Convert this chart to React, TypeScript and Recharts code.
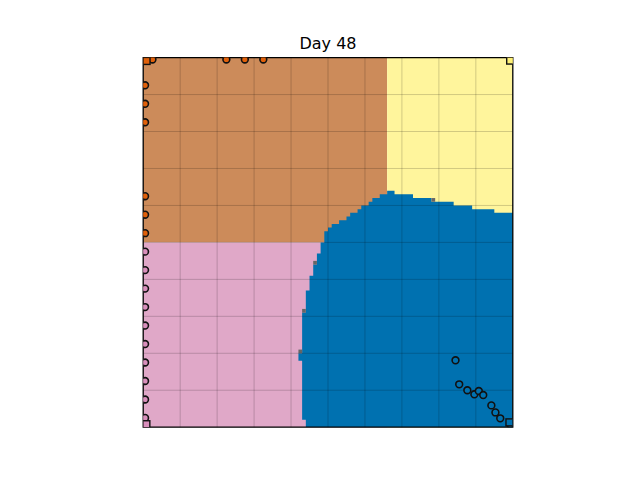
import { ComposedChart, Area, Scatter, XAxis, YAxis, ReferenceArea, ReferenceLine } from "recharts";

// territory map is 100 x 100 cells: column counted from the left, row from the bottom
const brownBox = [0, 66, 50, 100];
const yellowBox = [66, 100, 0, 100];
const pinkBox = [0, 66, 0, 50];

// blue territory, one entry per column starting at blueFirstCol: [low row, high row]
const blueFirstCol = 42;
const blueLow = [
  18, 2, 0, 0, 0, 0, 0, 0, 0, 0, 0, 0, 0, 0, 0, 0, 0, 0, 0, 0, 0, 0, 0, 0, 0, 0, 0, 0, 0,
  0, 0, 0, 0, 0, 0, 0, 0, 0, 0, 0, 0, 0, 0, 0, 0, 0, 0, 0, 0, 0, 0, 0, 0, 0, 0, 0, 0, 0,
];
const blueHigh = [
  20, 31, 37, 41, 44, 47, 50, 53, 54, 55, 55, 56, 56, 57, 58, 58, 59, 60, 60, 61, 62, 62, 63,
  63, 64, 64, 63, 63, 63, 63, 63, 62, 62, 62, 62, 62, 61, 61, 61, 61, 61, 61, 60, 60, 60, 60,
  60, 59, 59, 59, 59, 59, 59, 58, 58, 58, 58, 58,
];

// contested cells [col, row]
const greyCells = [
  [42, 20],
  [43, 31],
  [46, 44],
  [78, 61],
];

const gridTicks = [10, 20, 30, 40, 50, 60, 70, 80, 90];

// agents
const orangeAgents = [
  [2.5, 99.5], [22.5, 99.5], [27.5, 99.5], [32.5, 99.5],
  [0.5, 92.5], [0.5, 87.5], [0.5, 82.5], [0.5, 62.5], [0.5, 57.5], [0.5, 52.5],
];
const pinkAgents = [
  [0.5, 47.5], [0.5, 42.5], [0.5, 37.5], [0.5, 32.5], [0.5, 27.5],
  [0.5, 22.5], [0.5, 17.5], [0.5, 12.5], [0.5, 7.5], [0.5, 2.5],
];
const blueAgents = [
  [84.5, 18.1], [85.5, 11.6], [87.7, 10.0], [89.6, 8.9], [90.8, 9.8],
  [92.0, 8.7], [94.2, 5.9], [95.3, 4.0], [96.6, 2.4], [99.3, 0.8],
];
// home bases: orange, yellow, pink, blue
const bases = [
  [0.9, 99.1],
  [99.3, 99.2],
  [0.85, 0.8],
  [99.1, 1.3],
];

const BROWN = "#cc8b5a";
const YELLOW = "#fff59c";
const PINK = "#e0a8c8";
const BLUE = "#0071b0";
const GREY = "#666666";
const baseColors = ["#e0600a", "#fff176", "#d98fbc", "#0071b0"];

const blueData = blueHigh.map((hi, i) => ({ x: blueFirstCol + i, blue: [blueLow[i], hi] }));
blueData.push({ x: 100, blue: blueData[blueData.length - 1].blue });

const toPts = (arr: number[][]) => arr.map(([x, y], i) => ({ x, y, i }));

const dot = (fill: string) => (p: any) => (
  <circle cx={p.cx} cy={p.cy} r={3.4} fill={fill} stroke="#111" strokeWidth={1.6} />
);

const square = (p: any) => (
  <rect
    x={p.cx - 3.5}
    y={p.cy - 3.5}
    width={7}
    height={7}
    fill={baseColors[p.payload.i]}
    stroke="#111"
    strokeWidth={1.4}
  />
);

export default function App() {
  const box = (b: number[], fill: string, key: string) => (
    <ReferenceArea
      key={key}
      x1={b[0]}
      x2={b[1]}
      y1={b[2]}
      y2={b[3]}
      fill={fill}
      fillOpacity={1}
      stroke="none"
    />
  );

  return (
    <div style={{ position: "absolute", left: 0, top: 0, width: 640, height: 480, background: "#fff" }}>
      <div
        style={{
          position: "absolute",
          left: 0,
          width: 656,
          top: 36,
          textAlign: "center",
          fontFamily: "DejaVu Sans",
          fontSize: 16,
          lineHeight: "16px",
          color: "#000",
        }}
      >
        Day 48
      </div>
      <ComposedChart
        width={640}
        height={480}
        data={blueData}
        margin={{ top: 57.6, right: 127.2, bottom: 52.8, left: 143.2 }}
      >
        <XAxis type="number" dataKey="x" domain={[0, 100]} allowDataOverflow hide />
        <YAxis type="number" dataKey="y" domain={[0, 100]} allowDataOverflow hide />
        {box(brownBox, BROWN, "brown")}
        {box(yellowBox, YELLOW, "yellow")}
        {box(pinkBox, PINK, "pink")}
        <Area
          type="stepAfter"
          dataKey="blue"
          fill={BLUE}
          fillOpacity={1}
          stroke="none"
          isAnimationActive={false}
          activeDot={false}
          dot={false}
        />
        {greyCells.map(([c, r], i) => (
          <ReferenceArea
            key={"g" + i}
            x1={c}
            x2={c + 1}
            y1={r}
            y2={r + 1}
            fill={GREY}
            fillOpacity={1}
            stroke="none"
          />
        ))}
        {gridTicks.map((t) => (
          <ReferenceLine key={"vx" + t} x={t} stroke="#000" strokeOpacity={0.18} strokeWidth={1} />
        ))}
        {gridTicks.map((t) => (
          <ReferenceLine key={"hy" + t} y={t} stroke="#000" strokeOpacity={0.18} strokeWidth={1} />
        ))}
        <Scatter data={toPts(orangeAgents)} shape={dot("#e0600a")} isAnimationActive={false} />
        <Scatter data={toPts(pinkAgents)} shape={dot("#d98fbc")} isAnimationActive={false} />
        <Scatter data={toPts(blueAgents)} shape={dot(BLUE)} isAnimationActive={false} />
        <Scatter data={toPts(bases)} shape={square} isAnimationActive={false} />
        <ReferenceArea x1={0} x2={100} y1={0} y2={100} fill="none" stroke="#000" strokeWidth={1.3} />
      </ComposedChart>
    </div>
  );
}
